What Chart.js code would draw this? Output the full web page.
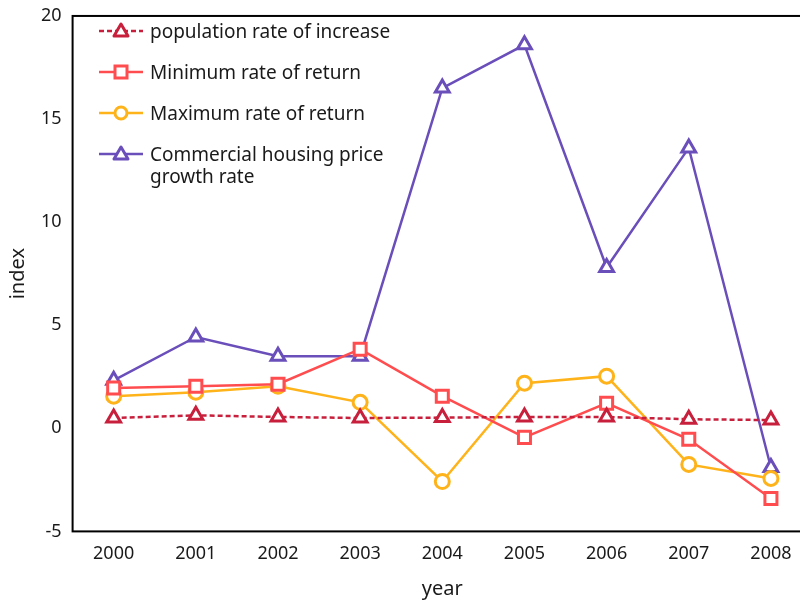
<!DOCTYPE html>
<html>
<head>
<meta charset="utf-8">
<script src="https://cdn.jsdelivr.net/npm/chart.js@4/dist/chart.umd.min.js"></script>
<style>
    html, body { margin: 0; padding: 0; background: #fff; overflow: hidden; }
    .canvas-container { position: relative; width: 830px; height: 601px; }
    #legend { position: absolute; left: 98px; top: 20px; font-family: "Noto Sans", sans-serif; font-size: 19px; color: #1a1a1a; }
    #legend ul { list-style: none; margin: 0; padding: 0; }
    #legend li { display: flex; align-items: flex-start; margin-bottom: 19px; line-height: 22px; }
    #legend svg { flex: none; margin-right: 6px; margin-top: 0; }
</style>
</head>
<body>
<div class="canvas-container">
    <canvas id="chart" width="830" height="601"></canvas>
    <div id="legend"></div>
</div>
<script>
    'use strict';

    var years = ['2000', '2001', '2002', '2003', '2004', '2005', '2006', '2007', '2008'];
    var populationRate = [0.50, 0.63, 0.55, 0.50, 0.52, 0.55, 0.55, 0.44, 0.40];
    var minReturn = [1.95, 2.04, 2.14, 3.84, 1.56, -0.44, 1.22, -0.53, -3.40];
    var maxReturn = [1.56, 1.75, 2.04, 1.26, -2.58, 2.19, 2.53, -1.75, -2.43];
    var housingGrowth = [2.33, 4.43, 3.50, 3.50, 16.50, 18.60, 7.80, 13.60, -1.90];
    var yTicks = [-5, 0, 5, 10, 15, 20];

    var makeSet = function (label, data, color, style, radius, dash, legendLines) {
        return {
            label: label,
            legendLines: legendLines,
            data: data,
            borderColor: color,
            backgroundColor: '#ffffff',
            borderWidth: 2.5,
            borderDash: dash,
            pointStyle: style,
            pointRadius: radius,
            pointBorderWidth: 3,
            pointBackgroundColor: '#ffffff',
            pointBorderColor: color,
            tension: 0,
            fill: false
        };
    };

    var datasets = [
        makeSet('population rate of increase', populationRate, '#c8203c', 'triangle', 8, [5, 3], ['population rate of increase']),
        makeSet('Minimum rate of return', minReturn, '#ff4d4f', 'rect', 8.5, [], ['Minimum rate of return']),
        makeSet('Maximum rate of return', maxReturn, '#ffb31a', 'circle', 7, [], ['Maximum rate of return']),
        makeSet('Commercial housing price growth rate', housingGrowth, '#6a4fbb', 'triangle', 8, [], ['Commercial housing price', 'growth rate'])
    ];

    // frame around the plot area
    var framePlugin = {
        id: 'frame',
        afterDraw: function (chart) {
            var a = chart.chartArea, c = chart.ctx;
            c.save();
            c.strokeStyle = '#000';
            c.lineWidth = 2;
            c.strokeRect(a.left, a.top, a.right - a.left, a.bottom - a.top);
            c.restore();
        }
    };

    var ctx = document.getElementById('chart').getContext('2d');
    var myChart = new Chart(ctx, {
        type: 'line',
        data: { labels: years, datasets: datasets },
        plugins: [framePlugin],
        options: {
            responsive: false,
            animation: false,
            layout: { padding: { left: 6, right: 18, top: 0, bottom: 0 } },
            plugins: {
                legend: { display: false },
                tooltip: { enabled: false }
            },
            scales: {
                x: {
                    offset: true,
                    grid: { display: false, drawTicks: false },
                    border: { display: false },
                    ticks: { color: '#1a1a1a', font: { family: 'Noto Sans', size: 18 }, padding: 12, maxRotation: 0 },
                    title: { display: true, text: 'year', color: '#1a1a1a', font: { family: 'Noto Sans', size: 20 }, padding: { top: 0, bottom: 0 } }
                },
                y: {
                    min: -5,
                    max: 20,
                    afterBuildTicks: function (axis) {
                        axis.ticks = yTicks.map(function (v) { return { value: v }; });
                    },
                    grid: { display: false, drawTicks: false },
                    border: { display: false },
                    // small lineHeight keeps the top label from pushing the plot down
                    ticks: { color: '#1a1a1a', font: { family: 'Noto Sans', size: 18, lineHeight: 0.55 }, padding: 11 },
                    title: { display: true, text: 'index', color: '#1a1a1a', font: { family: 'Noto Sans', size: 20 }, padding: 0 }
                }
            }
        }
    });

    // html legend with line + marker glyphs
    var glyph = function (ds) {
        var c = ds.borderColor;
        var dash = ds.borderDash.length ? ' stroke-dasharray="5 3"' : '';
        var mark;
        if (ds.pointStyle === 'triangle') {
            mark = '<polygon points="23,4 30,16 16,16" fill="#fff" stroke="' + c + '" stroke-width="3" stroke-linejoin="round"/>';
        } else if (ds.pointStyle === 'rect') {
            mark = '<rect x="17" y="5" width="12" height="12" fill="#fff" stroke="' + c + '" stroke-width="3"/>';
        } else {
            mark = '<circle cx="23" cy="11" r="6" fill="#fff" stroke="' + c + '" stroke-width="3"/>';
        }
        return '<svg width="46" height="22"><line x1="1" y1="11" x2="45" y2="11" stroke="' + c + '" stroke-width="2.5"' + dash + '/>' + mark + '</svg>';
    };

    var html = '<ul>';
    for (var i = 0; i < datasets.length; i++) {
        html += '<li>' + glyph(datasets[i]) + '<span>' + datasets[i].legendLines.join('<br>') + '</span></li>';
    }
    html += '</ul>';
    document.getElementById('legend').innerHTML = html;
</script>
</body>
</html>
